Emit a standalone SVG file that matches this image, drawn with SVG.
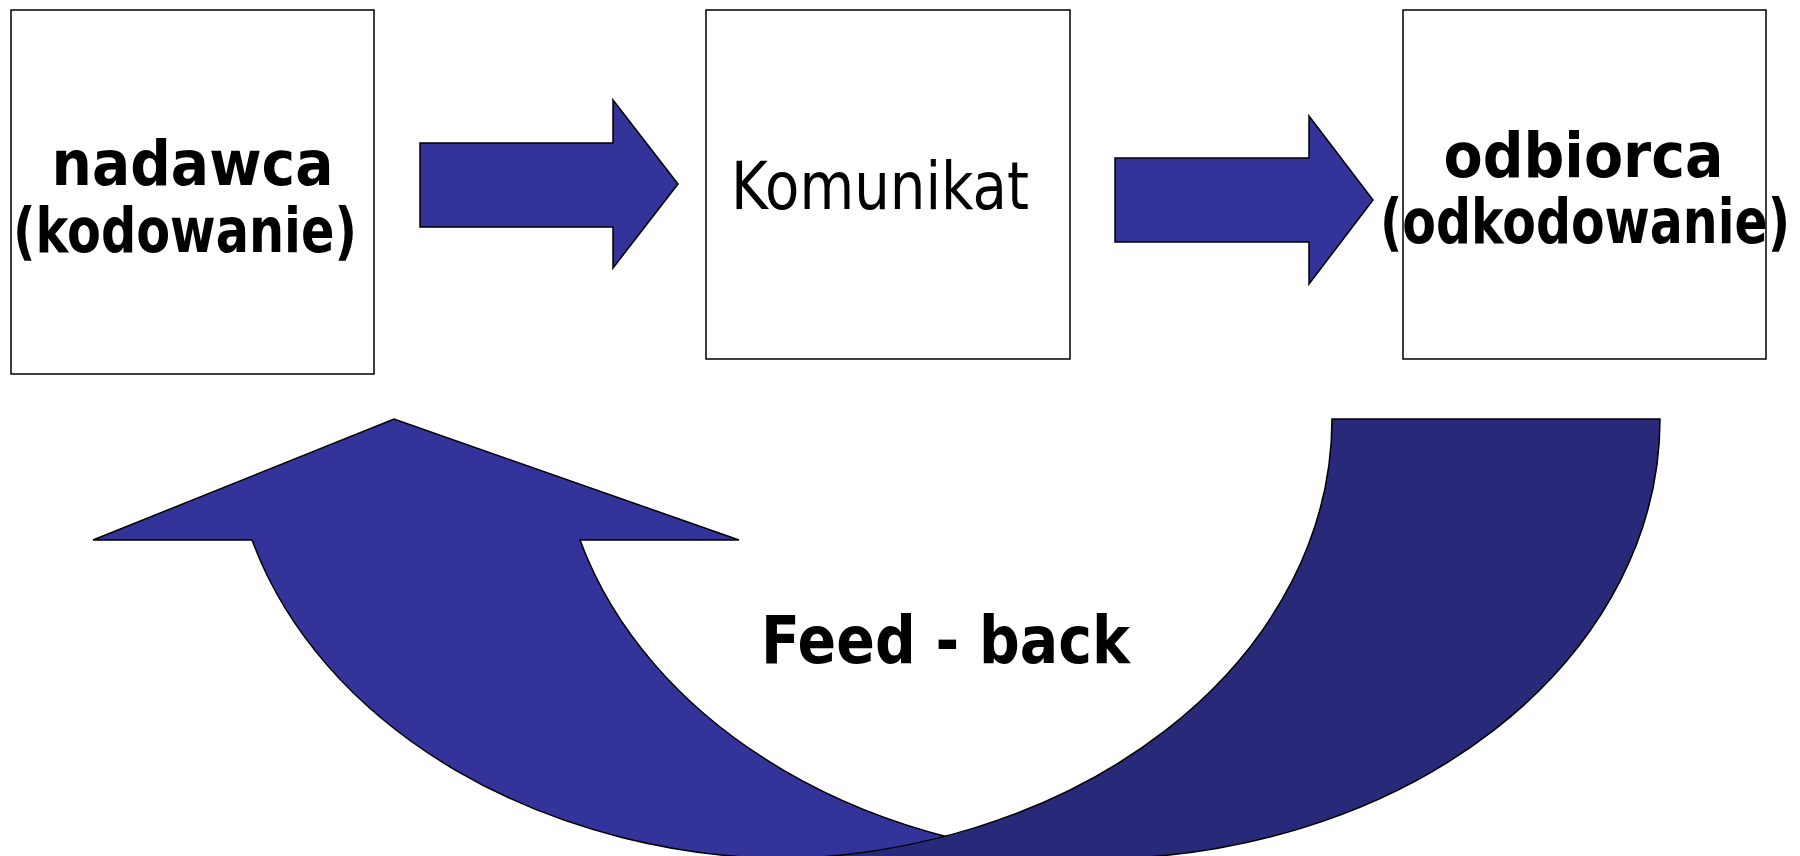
<svg xmlns="http://www.w3.org/2000/svg" width="1800" height="856" viewBox="0 0 1800 856">
<style>
.box{fill:#fff;stroke:#000;stroke-width:1.5}
.arr{fill:#333399;stroke:#000;stroke-width:1.5;stroke-linejoin:miter}
.dark{fill:#29297A;stroke:#000;stroke-width:1.5}
.b{font-family:"DejaVu Sans","Liberation Sans",sans-serif;font-weight:bold;fill:#000;text-anchor:middle}
.r{font-family:"DejaVu Sans","Liberation Sans",sans-serif;fill:#000;text-anchor:middle}
</style>
<rect width="1800" height="856" fill="#fff"/>
<g id="nadawca">
<rect class="box" x="11" y="10" width="363" height="364"/>
<text class="b" x="192.5" y="185" font-size="63" textLength="282" lengthAdjust="spacingAndGlyphs">nadawca</text>
<text class="b" x="185" y="252" font-size="63" textLength="344" lengthAdjust="spacingAndGlyphs">(kodowanie)</text>
</g>
<g id="komunikat">
<rect class="box" x="706" y="10" width="364" height="349"/>
<text class="r" x="880" y="209" font-size="66" textLength="298" lengthAdjust="spacingAndGlyphs">Komunikat</text>
</g>
<g id="odbiorca">
<rect class="box" x="1403" y="10" width="363" height="349"/>
<text class="b" x="1583.5" y="177" font-size="63" textLength="280" lengthAdjust="spacingAndGlyphs">odbiorca</text>
<text class="b" x="1585" y="243" font-size="63" textLength="410" lengthAdjust="spacingAndGlyphs">(odkodowanie)</text>
</g>
<g id="connectors">
<path class="arr" d="M420 143 L613 143 L613 100 L678 184 L613 268 L613 227 L420 227 Z"/>
<path class="arr" d="M1115 158 L1309 158 L1309 116 L1373 200 L1309 284 L1309 242 L1115 242 Z"/>
<path class="arr" d="M252 540 L93 540 L394 419 L739 540 L580 540 A567 440 0 0 0 1125 859 L797 859 A567 440 0 0 1 252 540 Z"/>
<path class="dark" d="M1332 419 L1660 419 A567 440 0 0 1 1093 859 L765 859 A567 440 0 0 0 1332 419 Z"/>
</g>
<g id="feedback-label">
<text class="b" x="945.5" y="663" font-size="66" textLength="369" lengthAdjust="spacingAndGlyphs">Feed - back</text>
</g>
</svg>
